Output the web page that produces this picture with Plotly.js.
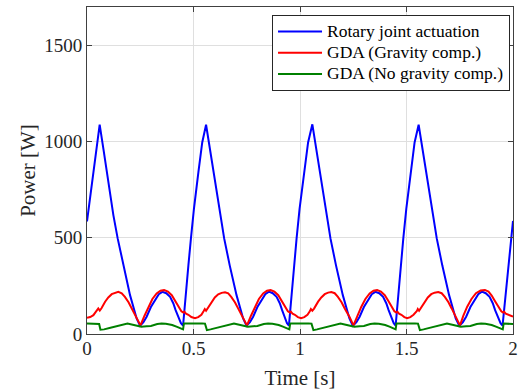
<!DOCTYPE html>
<html>
<head>
<meta charset="utf-8">
<script src="https://cdn.plot.ly/plotly-3.0.1.min.js"></script>
<style>html,body{margin:0;padding:0;background:#fff;}#chart{width:521px;height:391px;}</style>
</head>
<body>
<div id="chart"></div>
<script>
// Series names
var seriesNames = ["Rotary joint actuation", "GDA (Gravity comp.)", "GDA (No gravity comp.)"];

// Rotary joint actuation power [W]
var blueT = [0, 0.0595, 0.077, 0.1, 0.124, 0.144, 0.17, 0.202, 0.233, 0.249, 0.265, 0.28, 0.30, 0.319, 0.337, 0.354, 0.372, 0.39, 0.405, 0.416, 0.43, 0.441, 0.451, 0.46, 0.476, 0.488, 0.502, 0.523, 0.541,
  0.559, 0.577, 0.6, 0.624, 0.644, 0.67, 0.702, 0.733, 0.749, 0.765, 0.78, 0.80, 0.819, 0.837, 0.854, 0.872, 0.89, 0.905, 0.916, 0.93, 0.939, 0.948, 0.957, 0.972, 0.984, 0.998, 1.019, 1.038,
  1.058, 1.076, 1.099, 1.123, 1.143, 1.169, 1.201, 1.232, 1.248, 1.265, 1.28, 1.30, 1.319, 1.337, 1.354, 1.372, 1.39, 1.405, 1.416, 1.43, 1.44, 1.449, 1.458, 1.473, 1.485, 1.499, 1.52, 1.538,
  1.557, 1.575, 1.598, 1.622, 1.642, 1.668, 1.7, 1.731, 1.748, 1.765, 1.78, 1.80, 1.819, 1.837, 1.854, 1.872, 1.89, 1.905, 1.916, 1.932, 1.942, 1.951, 1.962, 1.978, 1.991, 2.0];
var blueP = [585, 1088, 962, 789, 617, 497, 357, 202, 81, 43, 62, 90, 140, 178, 207, 219, 212, 193, 160, 124, 82, 56, 44, 167, 357, 497, 651, 841, 996,
  1088, 962, 789, 617, 497, 357, 202, 81, 43, 62, 90, 140, 178, 207, 220, 212, 193, 160, 124, 82, 56, 44, 167, 357, 497, 651, 841, 996,
  1090, 962, 789, 617, 497, 357, 202, 81, 43, 62, 90, 140, 178, 207, 219, 212, 193, 160, 124, 82, 56, 44, 167, 357, 497, 651, 841, 996,
  1088, 962, 789, 617, 497, 357, 202, 81, 43, 62, 90, 140, 178, 207, 220, 212, 193, 160, 124, 80, 55, 44, 167, 357, 497, 588];

// GDA with gravity compensation power [W]
var redT = [0, 0.015, 0.03, 0.045, 0.053, 0.06, 0.068, 0.085, 0.1, 0.116, 0.132, 0.147, 0.163, 0.178, 0.195, 0.21, 0.232, 0.251, 0.27, 0.288, 0.307, 0.327, 0.345, 0.362, 0.38, 0.398, 0.415, 0.429, 0.443, 0.452, 0.457, 0.465, 0.476, 0.49,
  0.507, 0.522, 0.537, 0.548, 0.553, 0.559, 0.566, 0.585, 0.6, 0.616, 0.632, 0.648, 0.663, 0.678, 0.695, 0.71, 0.732, 0.751, 0.77, 0.788, 0.807, 0.827, 0.845, 0.862, 0.88, 0.898, 0.915, 0.929, 0.943, 0.952, 0.957, 0.965, 0.976, 0.99,
  1.005, 1.02, 1.035, 1.046, 1.051, 1.058, 1.066, 1.085, 1.1, 1.116, 1.132, 1.147, 1.163, 1.178, 1.195, 1.21, 1.232, 1.251, 1.27, 1.288, 1.307, 1.327, 1.345, 1.362, 1.38, 1.398, 1.415, 1.429, 1.443, 1.452, 1.457, 1.465, 1.476, 1.49,
  1.503, 1.518, 1.533, 1.548, 1.553, 1.559, 1.566, 1.585, 1.6, 1.616, 1.632, 1.649, 1.665, 1.68, 1.697, 1.712, 1.732, 1.751, 1.767, 1.785, 1.805, 1.826, 1.848, 1.868, 1.885, 1.9, 1.915, 1.93, 1.945, 1.953, 1.958, 1.966, 1.978, 1.99, 2.0];
var redP = [84, 88, 98, 118, 133, 122, 134, 168, 190, 207, 215, 219, 212, 193, 165, 133, 90, 45, 95, 142, 182, 211, 225, 228, 220, 202, 172, 142, 118, 112, 116, 106, 100, 88,
  82, 88, 100, 120, 130, 121, 133, 168, 190, 206, 214, 217, 211, 192, 164, 132, 89, 45, 95, 142, 182, 211, 225, 228, 220, 202, 172, 142, 118, 112, 116, 106, 100, 88,
  82, 88, 100, 118, 130, 121, 132, 168, 190, 207, 215, 218, 212, 193, 165, 133, 90, 45, 95, 142, 182, 211, 225, 228, 220, 202, 172, 142, 118, 112, 116, 106, 100, 88,
  82, 88, 100, 118, 130, 121, 132, 168, 190, 207, 215, 218, 212, 193, 165, 133, 90, 45, 95, 142, 182, 212, 226, 229, 220, 200, 172, 142, 118, 112, 116, 106, 100, 96, 90];

// GDA without gravity compensation power [W]
var greenT = [0, 0.05, 0.057, 0.063, 0.08, 0.11, 0.147, 0.17, 0.19, 0.22, 0.255, 0.28, 0.30, 0.33, 0.35, 0.37, 0.40, 0.42, 0.44, 0.451, 0.455, 0.5,
  0.54, 0.554, 0.563, 0.58, 0.61, 0.647, 0.67, 0.69, 0.72, 0.755, 0.78, 0.80, 0.83, 0.85, 0.87, 0.90, 0.92, 0.94, 0.95, 0.954, 1.0,
  1.04, 1.054, 1.063, 1.08, 1.11, 1.147, 1.17, 1.19, 1.22, 1.255, 1.28, 1.30, 1.33, 1.35, 1.37, 1.40, 1.42, 1.44, 1.449, 1.453, 1.5,
  1.54, 1.554, 1.563, 1.58, 1.61, 1.647, 1.67, 1.69, 1.72, 1.755, 1.78, 1.80, 1.83, 1.85, 1.87, 1.90, 1.92, 1.94, 1.952, 1.956, 2.0];
var greenP = [55, 55, 52, 22, 24, 32, 41, 50, 55, 47, 38, 40, 42, 52, 55, 53, 47, 38, 29, 24, 55, 57,
  55, 54, 20, 24, 32, 41, 50, 55, 47, 38, 40, 42, 52, 55, 53, 47, 38, 29, 24, 55, 57,
  55, 54, 20, 24, 32, 41, 50, 55, 47, 38, 40, 42, 52, 55, 53, 47, 38, 29, 24, 55, 57,
  55, 54, 20, 24, 32, 41, 50, 55, 47, 38, 40, 42, 52, 55, 53, 47, 38, 29, 24, 54, 52];

// Axis ticks
var xTicks = [0, 0.5, 1, 1.5, 2];
var xTickText = ["0", "0.5", "1", "1.5", "2"];
var yTicks = [0, 500, 1000, 1500];
var yTickText = ["0", "500", "1000", "1500"];

var serif = "Liberation Serif";

function legendLabel(s) { return '<span style="font-size:17.5px">' + s + '</span>'; }

var traces = [
  {x: blueT, y: blueP, name: legendLabel(seriesNames[0]), type: "scatter", mode: "lines", line: {color: "#0000ff", width: 2}},
  {x: redT, y: redP, name: legendLabel(seriesNames[1]), type: "scatter", mode: "lines", line: {color: "#ff0000", width: 2}},
  {x: greenT, y: greenP, name: legendLabel(seriesNames[2]), type: "scatter", mode: "lines", line: {color: "#008000", width: 2}}
];

function axisBase() {
  return {
    showline: true, mirror: "ticks", linecolor: "#404040", linewidth: 1,
    ticks: "inside", ticklen: 5, tickcolor: "#404040", tickwidth: 1,
    showgrid: true, gridcolor: "#dfdfdf", gridwidth: 1, zeroline: false,
    tickfont: {family: serif, size: 19, color: "#262626"}
  };
}

var xa = axisBase();
xa.range = [0, 2]; xa.tickvals = xTicks; xa.ticktext = xTickText; xa.automargin = false;
xa.ticklabelstandoff = -3;
xa.title = {text: "Time [s]", font: {family: serif, size: 21, color: "#262626"}, standoff: 12};
var ya = axisBase();
ya.range = [0, 1700]; ya.tickvals = yTicks; ya.ticktext = yTickText; ya.automargin = false;
ya.title = {text: "Power [W]", font: {family: serif, size: 21, color: "#262626"}, standoff: 2};

var layout = {
  width: 521, height: 391,
  margin: {l: 87, r: 8, t: 7, b: 57},
  paper_bgcolor: "#ffffff", plot_bgcolor: "#ffffff",
  font: {family: serif},
  showlegend: true,
  xaxis: xa,
  yaxis: ya,
  legend: {
    x: 0.993, y: 0.9755, xanchor: "right", yanchor: "top",
    bgcolor: "#ffffff", bordercolor: "#262626", borderwidth: 1,
    font: {family: serif, size: 14, color: "#000000"},
    itemwidth: 44,
    tracegroupgap: 0
  }
};

Plotly.newPlot("chart", traces, layout, {displayModeBar: false, staticPlot: true});
</script>
</body>
</html>
